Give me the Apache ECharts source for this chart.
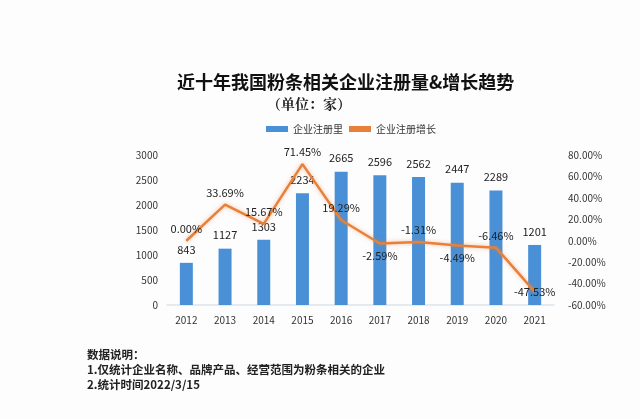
<!DOCTYPE html>
<html><head><meta charset="utf-8">
<script src="https://cdn.jsdelivr.net/npm/echarts@6/dist/echarts.min.js"></script>
<style>html,body{margin:0;padding:0;background:#fdfdfe;}#c{width:640px;height:419px;}</style>
</head><body><div id="c"></div>
<script>
const years = ['2012','2013','2014','2015','2016','2017','2018','2019','2020','2021'];
const registrations = [843,1127,1303,2234,2665,2596,2562,2447,2289,1201];
const growth = [0.00,33.69,15.67,71.45,19.29,-2.59,-1.31,-4.49,-6.46,-47.53];
const growthLabelPos = ['top','top','top','top','top','bottom','top','bottom','top','bottom'];

const chart = echarts.init(document.getElementById('c'));
const font = '"Noto Sans CJK SC", "Noto Sans", sans-serif';
chart.setOption({
  backgroundColor: '#fdfdfe',
  animation: false,
  title: [{
    text: '近十年我国粉条相关企业注册量&增长趋势',
    left: 172, top: 68,
    textStyle: {fontFamily: font, fontSize: 18, fontWeight: 'bold', color: '#111'}
  },{
    text: '（单位：家）',
    left: 262, top: 92,
    textStyle: {fontFamily: '"Noto Serif CJK SC", "Noto Sans CJK SC", serif', fontSize: 14, fontWeight: 'bold', color: '#222'}
  },{
    text: '数据说明：\n1.仅统计企业名称、品牌产品、经营范围为粉条相关的企业\n2.统计时间2022/3/15',
    left: 82, top: 342,
    textStyle: {fontFamily: font, fontSize: 11.5, fontWeight: 'bold', color: '#222', lineHeight: 15}
  }],
  legend: {
    top: 119, left: 261, itemWidth: 22, itemHeight: 6, itemGap: 6,
    textStyle: {fontFamily: font, fontSize: 10, color: '#333'},
    data: [{name: '企业注册里', icon: 'rect'}, {name: '企业注册增长', icon: 'rect'}]
  },
  grid: {left: 167, right: 86, top: 155, bottom: 114},
  xAxis: {
    type: 'category', data: years,
    axisLine: {lineStyle: {color: '#dde3ea', width: 1.5}},
    axisTick: {show: false},
    axisLabel: {fontFamily: font, fontSize: 10, color: '#333', margin: 10}
  },
  yAxis: [{
    type: 'value', min: 0, max: 3000, interval: 500,
    splitLine: {show: false}, axisLine: {show: false}, axisTick: {show: false},
    axisLabel: {fontFamily: font, fontSize: 10, color: '#333', margin: 9, formatter: v => String(v)}
  },{
    type: 'value', min: -60, max: 80, interval: 20,
    splitLine: {show: false}, axisLine: {show: false}, axisTick: {show: false},
    axisLabel: {fontFamily: font, fontSize: 10, color: '#333', margin: 14,
      formatter: v => v.toFixed(2) + '%'}
  }],
  series: [{
    name: '企业注册里', type: 'bar', data: registrations, barWidth: 13,
    itemStyle: {color: '#4a90d6'},
    label: {show: true, position: 'top', distance: 8, fontFamily: font, fontSize: 11, color: '#222'}
  },{
    name: '企业注册增长', type: 'line', yAxisIndex: 1,
    data: growth.map((v, i) => ({value: v, label: i === 9
      ? {position: 'bottom', distance: -6}
      : {position: growthLabelPos[i]}})),
    symbol: 'circle', symbolSize: 1, showSymbol: true,
    lineStyle: {color: '#e8803a', width: 2.5, shadowColor: 'rgba(232,128,58,0.5)', shadowBlur: 4},
    itemStyle: {color: '#e8803a'},
    label: {show: true, fontFamily: font, fontSize: 11, color: '#222', distance: 6,
      formatter: p => p.value.toFixed(2) + '%'}
  }]
});
</script></body></html>
